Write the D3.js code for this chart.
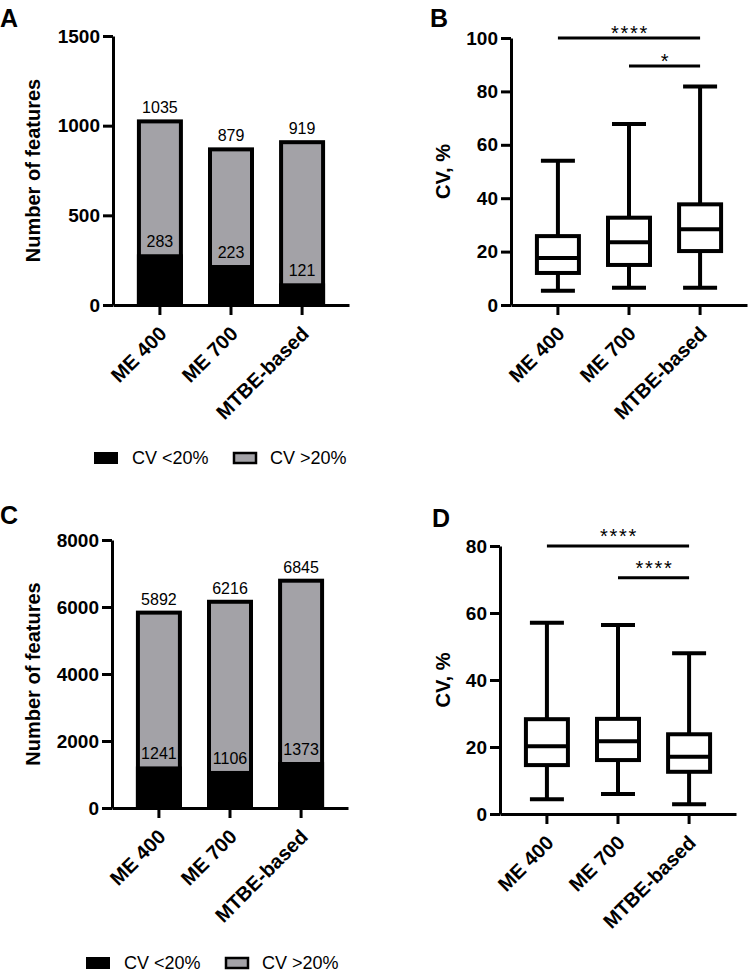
<!DOCTYPE html>
<html>
<head>
<meta charset="utf-8">
<script src="https://d3js.org/d3.v7.min.js"></script>
<style>
  body { margin: 0; background: #fff; }
  svg { font-family: "Liberation Sans", Arial, sans-serif; }
  .axis path, .axis line { stroke: #000; stroke-width: 3px; }
  .axis text { font-size: 19px; font-weight: bold; fill: #000; }
</style>
</head>
<body>
<svg id="fig" width="750" height="975"></svg>
<script>
// ---- data ----
const categories = ["ME 400", "ME 700", "MTBE-based"];

const totalsA = [1035, 879, 919];
const lowCvA = [283, 223, 121];
const ticksA = [0, 500, 1000, 1500];

const totalsC = [5892, 6216, 6845];
const lowCvC = [1241, 1106, 1373];
const ticksC = [0, 2000, 4000, 6000, 8000];

// [min, q1, median, q3, max]
const boxB = [[5.3, 12, 17.6, 25.8, 54], [6.5, 15, 23.5, 32.7, 67.8], [6.5, 20.2, 28.4, 37.7, 81.8]];
const ticksB = [0, 20, 40, 60, 80, 100];
const sigB = [[0, 2, 100, "****"], [1, 2, 89.5, "*"]];

const boxD = [[4.4, 14.6, 20.2, 28.3, 57.1], [6, 16.1, 21.7, 28.4, 56.4], [2.9, 12.6, 17.1, 23.8, 48]];
const ticksD = [0, 20, 40, 60, 80];
const sigD = [[0, 2, 80, "****"], [1, 2, 70.5, "****"]];

const legendLabels = ["CV <20%", "CV >20%"];
const grey = "#a3a2a7";

const svg = d3.select("#fig");

function frame(p) {
  const g = svg.append("g");
  const x = d3.scaleBand().domain(categories)
      .range([p.x0, p.x0 + 236]).paddingInner(0).paddingOuter(0.16);
  const y = d3.scaleLinear().domain(p.domain).range([p.y0, p.y1]);

  g.append("g").attr("class", "axis")
      .attr("transform", `translate(${p.x0},0)`)
      .call(d3.axisLeft(y).tickValues(p.ticks).tickFormat(d3.format("d"))
        .tickSize(10).tickSizeOuter(0).tickPadding(3));

  const xa = g.append("g").attr("class", "axis")
      .attr("transform", `translate(0,${p.y0})`)
      .call(d3.axisBottom(x).tickSize(10).tickSizeOuter(0));
  xa.selectAll("text")
      .attr("text-anchor", "end")
      .attr("dy", null).attr("y", null)
      .attr("transform", "translate(8,30) rotate(-45)")
      .style("font-size", "20px");

  g.append("text")
      .attr("transform", `translate(${p.titleX},${(p.y0 + p.y1) / 2}) rotate(-90)`)
      .attr("text-anchor", "middle")
      .style("font-size", "20px").style("font-weight", "bold")
      .text(p.title);

  g.append("text").attr("x", p.letter[0]).attr("y", p.letter[1])
      .style("font-size", "25px").style("font-weight", "bold")
      .text(p.label);
  return {g, x, y};
}

function barPanel(p, totals, low, legendPos) {
  const {g, x, y} = frame(p);
  const bw = 46, sw = 4;
  const cx = d => x(d) + x.bandwidth() / 2;

  g.selectAll(".bar").data(categories).join("rect")
      .attr("x", d => cx(d) - bw / 2 + sw / 2)
      .attr("y", (d, i) => y(totals[i]) + sw / 2)
      .attr("width", bw - sw)
      .attr("height", (d, i) => y(0) - y(totals[i]) - sw / 2)
      .attr("fill", grey).attr("stroke", "#000").attr("stroke-width", sw);

  g.selectAll(".low").data(categories).join("rect")
      .attr("x", d => cx(d) - bw / 2)
      .attr("y", (d, i) => y(low[i]))
      .attr("width", bw)
      .attr("height", (d, i) => y(0) - y(low[i]))
      .attr("fill", "#000");

  g.selectAll(".tot").data(categories).join("text")
      .attr("x", cx).attr("y", (d, i) => y(totals[i]) - 6)
      .attr("text-anchor", "middle").style("font-size", "16px")
      .text((d, i) => totals[i]);

  g.selectAll(".lowlab").data(categories).join("text")
      .attr("x", cx).attr("y", (d, i) => y(low[i]) - 7)
      .attr("text-anchor", "middle").style("font-size", "16px")
      .text((d, i) => low[i]);

  // legend
  const lg = g.append("g").attr("transform", `translate(${legendPos[0]},${legendPos[1]})`);
  lg.append("rect").attr("x", 0).attr("y", -12).attr("width", 24).attr("height", 12).attr("fill", "#000");
  lg.append("text").attr("x", 38).attr("y", 0).style("font-size", "18px").text(legendLabels[0]);
  lg.append("rect").attr("x", 140).attr("y", -11).attr("width", 22).attr("height", 10)
      .attr("fill", grey).attr("stroke", "#000").attr("stroke-width", 2.5);
  lg.append("text").attr("x", 176).attr("y", 0).style("font-size", "18px").text(legendLabels[1]);
}

function boxPanel(p, stats, sig, starDy) {
  const {g, x, y} = frame(p);
  const bw = 42, cap = 34, sw = 4;
  const cx = d => x(d) + x.bandwidth() / 2;

  const b = g.selectAll(".box").data(categories).join("g")
      .attr("transform", d => `translate(${cx(d)},0)`);
  b.append("line").attr("y1", (d, i) => y(stats[i][0])).attr("y2", (d, i) => y(stats[i][4]))
      .attr("stroke", "#000").attr("stroke-width", sw);
  b.append("line").attr("x1", -cap / 2).attr("x2", cap / 2)
      .attr("y1", (d, i) => y(stats[i][0])).attr("y2", (d, i) => y(stats[i][0]))
      .attr("stroke", "#000").attr("stroke-width", sw);
  b.append("line").attr("x1", -cap / 2).attr("x2", cap / 2)
      .attr("y1", (d, i) => y(stats[i][4])).attr("y2", (d, i) => y(stats[i][4]))
      .attr("stroke", "#000").attr("stroke-width", sw);
  b.append("rect").attr("x", -bw / 2).attr("width", bw)
      .attr("y", (d, i) => y(stats[i][3]))
      .attr("height", (d, i) => y(stats[i][1]) - y(stats[i][3]))
      .attr("fill", "#fff").attr("stroke", "#000").attr("stroke-width", sw);
  b.append("line").attr("x1", -bw / 2).attr("x2", bw / 2)
      .attr("y1", (d, i) => y(stats[i][2])).attr("y2", (d, i) => y(stats[i][2]))
      .attr("stroke", "#000").attr("stroke-width", sw);

  sig.forEach(s => {
    const a = cx(categories[s[0]]), c = cx(categories[s[1]]);
    g.append("line").attr("x1", a).attr("x2", c).attr("y1", y(s[2])).attr("y2", y(s[2]))
        .attr("stroke", "#000").attr("stroke-width", 3);
    g.append("text").attr("x", (a + c) / 2 + 1).attr("y", y(s[2]) + starDy)
        .attr("text-anchor", "middle").style("font-size", "20px")
        .style("letter-spacing", "1.7px").text(s[3]);
  });
}

barPanel({x0: 113, y0: 305, y1: 36, domain: [0, 1500], ticks: ticksA,
          title: "Number of features", titleX: 40, label: "A", letter: [0, 27]},
         totalsA, lowCvA, [94, 464]);
boxPanel({x0: 511, y0: 305, y1: 38, domain: [0, 100], ticks: ticksB,
          title: "CV, %", titleX: 450, label: "B", letter: [430, 27]},
         boxB, sigB, 2);
barPanel({x0: 112, y0: 808, y1: 540, domain: [0, 8000], ticks: ticksC,
          title: "Number of features", titleX: 40, label: "C", letter: [0, 524]},
         totalsC, lowCvC, [86, 969]);
boxPanel({x0: 500, y0: 814, y1: 546, domain: [0, 80], ticks: ticksD,
          title: "CV, %", titleX: 450, label: "D", letter: [432, 527]},
         boxD, sigD, -3);
</script>
</body>
</html>
